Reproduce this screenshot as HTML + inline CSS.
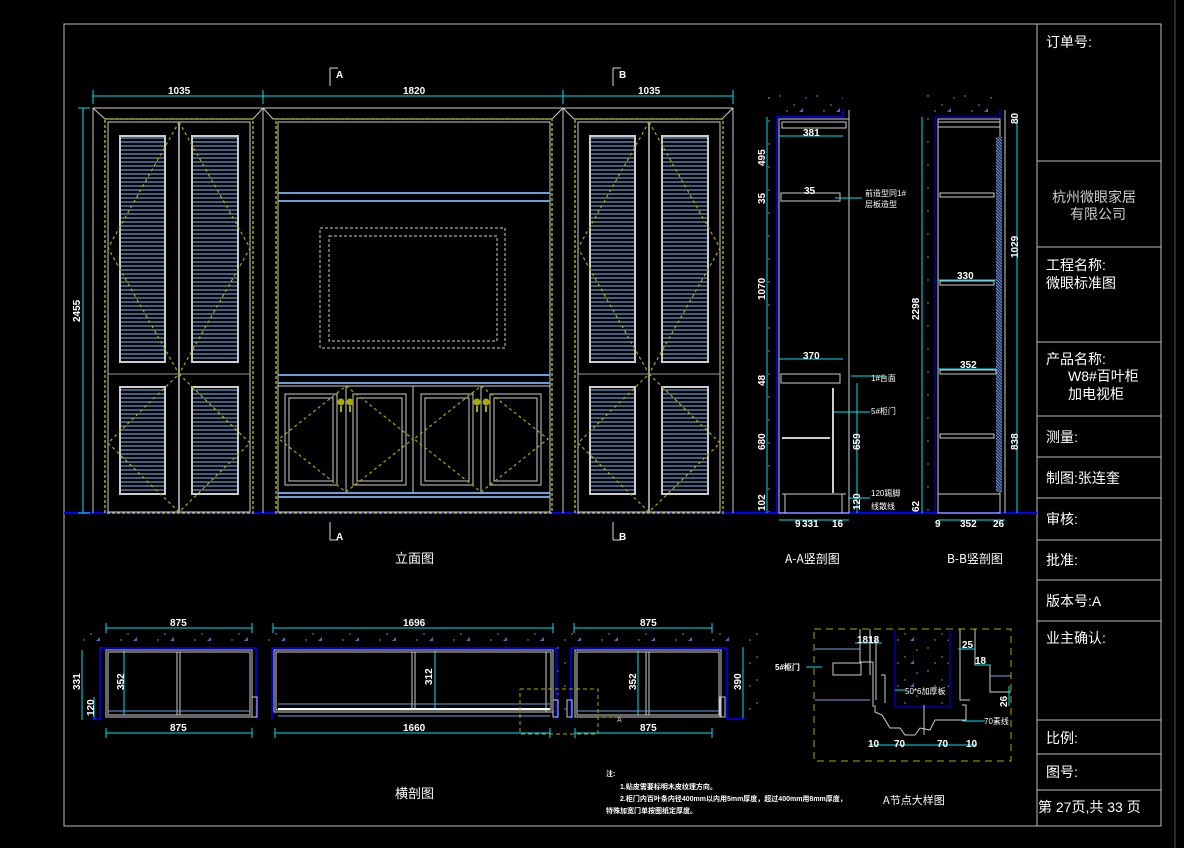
<!DOCTYPE html>
<html><head><meta charset="utf-8"><style>
html,body{margin:0;padding:0;background:#000;}
svg{display:block}
text{font-family:"Liberation Sans","Noto Sans CJK SC",sans-serif;}
.d{fill:#fff;font-family:"Liberation Sans Narrow","Liberation Sans",sans-serif;font-size:10px;font-weight:bold}
.c{fill:#fff;font-family:"Noto Sans CJK SC",sans-serif;}
</style></head><body>
<svg width="1184" height="848" viewBox="0 0 1184 848" xmlns="http://www.w3.org/2000/svg">
<defs>
<pattern id="lv" width="4" height="4" patternUnits="userSpaceOnUse"><rect width="4" height="4" fill="#000"/><line x1="0" y1="2" x2="4" y2="2" stroke="#6a9fd8" stroke-width="1.2"/></pattern>
<pattern id="vl" width="3" height="3" patternUnits="userSpaceOnUse"><rect width="3" height="3" fill="#1a2a55"/><line x1="0" y1="0" x2="3" y2="3" stroke="#6a8fc8" stroke-width="1"/></pattern>
<pattern id="sp" width="37" height="23" patternUnits="userSpaceOnUse"><circle cx="3" cy="4" r="0.7" fill="#8aa8e0"/><circle cx="17" cy="13" r="0.7" fill="#8aa8e0"/><circle cx="29" cy="6" r="0.7" fill="#8aa8e0"/><circle cx="10" cy="19" r="0.7" fill="#8aa8e0"/><path d="M22,20 l4,-4 v4z" fill="#4a6fb8"/></pattern>
</defs>
<rect width="1184" height="848" fill="#000"/>
<rect x="64" y="24" width="1097" height="802" fill="none" stroke="#bbb" stroke-width="1"/>
<line x1="1175" y1="0" x2="1175" y2="848" stroke="#555"/>
<g stroke="#bbb" fill="none">
<line x1="1037" y1="24" x2="1037" y2="826"/>
<line x1="1037" y1="161" x2="1161" y2="161"/>
<line x1="1037" y1="247" x2="1161" y2="247"/>
<line x1="1037" y1="342" x2="1161" y2="342"/>
<line x1="1037" y1="416" x2="1161" y2="416"/>
<line x1="1037" y1="457" x2="1161" y2="457"/>
<line x1="1037" y1="498" x2="1161" y2="498"/>
<line x1="1037" y1="540" x2="1161" y2="540"/>
<line x1="1037" y1="580" x2="1161" y2="580"/>
<line x1="1037" y1="621" x2="1161" y2="621"/>
<line x1="1037" y1="720" x2="1161" y2="720"/>
<line x1="1037" y1="754" x2="1161" y2="754"/>
<line x1="1037" y1="790" x2="1161" y2="790"/>
</g>
<g class="c" font-size="14">
<text x="1046" y="47">订单号:</text>
<text x="1052" y="202" fill="#ccc">杭州微眼家居</text>
<text x="1070" y="219" fill="#ccc">有限公司</text>
<text x="1046" y="270">工程名称:</text>
<text x="1046" y="288">微眼标准图</text>
<text x="1046" y="364">产品名称:</text>
<text x="1068" y="381">W8#百叶柜</text>
<text x="1068" y="399">加电视柜</text>
<text x="1046" y="442">测量:</text>
<text x="1046" y="483">制图:张连奎</text>
<text x="1046" y="524">审核:</text>
<text x="1046" y="565">批准:</text>
<text x="1046" y="606">版本号:A</text>
<text x="1046" y="643">业主确认:</text>
<text x="1046" y="743">比例:</text>
<text x="1046" y="777">图号:</text>
<text x="1038" y="812">第 27页,共 33 页</text>
</g>

<line x1="64" y1="513" x2="1037" y2="513" stroke="#0000ff" stroke-width="2"/>

<g stroke="#00e5ee" stroke-width="1">
<line x1="93" y1="96" x2="733" y2="96"/>
<line x1="93" y1="90" x2="93" y2="104"/><line x1="263" y1="90" x2="263" y2="104"/><line x1="563" y1="90" x2="563" y2="104"/><line x1="733" y1="90" x2="733" y2="104"/>
<line x1="83" y1="108" x2="83" y2="513"/>
<line x1="78" y1="108" x2="90" y2="108"/><line x1="78" y1="513" x2="90" y2="513"/>
</g>
<text class="d" x="168" y="94">1035</text>
<text class="d" x="403" y="94">1820</text>
<text class="d" x="638" y="94">1035</text>
<text class="d" transform="translate(80,322) rotate(-90)">2455</text>
<g stroke="#ddd"><line x1="330" y1="68" x2="330" y2="86"/><line x1="330" y1="68" x2="338" y2="68"/>
<line x1="613" y1="68" x2="613" y2="86"/><line x1="613" y1="68" x2="621" y2="68"/>
<line x1="330" y1="522" x2="330" y2="540"/><line x1="330" y1="540" x2="338" y2="540"/>
<line x1="613" y1="522" x2="613" y2="540"/><line x1="613" y1="540" x2="621" y2="540"/></g>
<text class="d" x="336" y="78">A</text><text class="d" x="619" y="78">B</text>
<text class="d" x="336" y="540">A</text><text class="d" x="619" y="540">B</text>

<g stroke="#ccc" fill="none">
<line x1="93" y1="108" x2="733" y2="108"/>
<polyline points="93,108 105,119 253,119 263,108 273,119 552,119 563,108 574,119 722,119 733,108"/>
<line x1="93" y1="108" x2="93" y2="513"/><line x1="733" y1="108" x2="733" y2="513"/>
<line x1="263" y1="108" x2="263" y2="513"/><line x1="563" y1="108" x2="563" y2="513"/>
</g>

<g id="sideL">
<rect x="105" y="119" width="148" height="394" fill="none" stroke="#aa0" stroke-dasharray="3,2" stroke-width="1.5"/>
<rect x="108" y="122" width="142" height="390" fill="none" stroke="#ccc"/>
<line x1="108" y1="374" x2="250" y2="374" stroke="#999"/>
<line x1="179" y1="122" x2="179" y2="512" stroke="#ccc" stroke-width="1.5"/>
<rect x="120" y="136" width="45" height="226" fill="url(#lv)" stroke="#ccc" stroke-width="2"/>
<rect x="192" y="136" width="46" height="226" fill="url(#lv)" stroke="#ccc" stroke-width="2"/>
<rect x="120" y="387" width="45" height="107" fill="url(#lv)" stroke="#ccc" stroke-width="2"/>
<rect x="192" y="387" width="46" height="107" fill="url(#lv)" stroke="#ccc" stroke-width="2"/>
<g stroke="#aa0" fill="none" stroke-dasharray="3,3" stroke-width="1.2">
<polygon points="179,122 250,248 179,374 108,248"/>
<polygon points="179,374 250,443 179,512 108,443"/>
</g>
</g>
<use href="#sideL" transform="translate(470,0)"/>

<g fill="none">
<rect x="276" y="119" width="276" height="394" stroke="#aa0" stroke-dasharray="3,2" stroke-width="1.5"/>
<rect x="278" y="122" width="272" height="390" stroke="#ccc"/>
<line x1="278" y1="193" x2="550" y2="193" stroke="#6a9fd8" stroke-width="2"/>
<line x1="278" y1="201" x2="550" y2="201" stroke="#6a9fd8" stroke-width="2"/>
<rect x="320" y="228" width="185" height="120" stroke="#ccc" stroke-dasharray="3,2"/>
<rect x="329" y="236" width="168" height="105" stroke="#ccc" stroke-dasharray="3,2"/>
<line x1="278" y1="375" x2="550" y2="375" stroke="#6a9fd8" stroke-width="2"/>
<line x1="278" y1="383" x2="550" y2="383" stroke="#6a9fd8" stroke-width="2"/>
<line x1="278" y1="493" x2="550" y2="493" stroke="#6a9fd8" stroke-width="2"/>
<line x1="278" y1="497" x2="550" y2="497" stroke="#6a9fd8" stroke-width="2"/>
<g stroke="#ccc">
<line x1="278" y1="386" x2="550" y2="386"/>
<line x1="346" y1="386" x2="346" y2="492"/><line x1="413" y1="386" x2="413" y2="492"/><line x1="481" y1="386" x2="481" y2="492"/>
<rect x="285" y="394" width="52" height="91"/><rect x="289" y="398" width="44" height="83"/>
<rect x="353" y="394" width="53" height="91"/><rect x="357" y="398" width="45" height="83"/>
<rect x="421" y="394" width="52" height="91"/><rect x="425" y="398" width="44" height="83"/>
<rect x="490" y="394" width="51" height="91"/><rect x="494" y="398" width="43" height="83"/>
</g>
<g stroke="#aa0" stroke-dasharray="3,3" stroke-width="1.2">
<polygon points="346,386 413,439 346,492 279,439"/>
<polygon points="481,386 548,439 481,492 414,439"/>
</g>
<g fill="#aa0"><circle cx="341" cy="402" r="3.5"/><circle cx="350" cy="402" r="3.5"/><circle cx="477" cy="402" r="3.5"/><circle cx="486" cy="402" r="3.5"/>
<rect x="340" y="406" width="2" height="6"/><rect x="349" y="406" width="2" height="6"/><rect x="476" y="406" width="2" height="6"/><rect x="485" y="406" width="2" height="6"/></g>
</g>
<text class="c" x="395" y="563" font-size="13">立面图</text>

<!-- A-A / B-B sections -->
<rect x="768" y="92" width="8" height="420" fill="url(#sp)"/>
<rect x="768" y="92" width="75" height="24" fill="url(#sp)"/>
<rect x="924" y="92" width="8" height="420" fill="url(#sp)"/>
<rect x="924" y="92" width="76" height="24" fill="url(#sp)"/>
<g fill="none">
<polyline points="777,513 777,117 843,117 843,110" stroke="#00f" stroke-width="1.5"/>
<rect x="779" y="119" width="70" height="394" stroke="#ccc"/>
<rect x="782" y="122" width="64" height="6" stroke="#ccc"/>
<line x1="849" y1="110" x2="849" y2="513" stroke="#ccc"/>
<rect x="781" y="193" width="59" height="8" stroke="#ccc"/>
<rect x="781" y="374" width="59" height="9" stroke="#ccc"/>
<line x1="782" y1="438" x2="830" y2="438" stroke="#ccc" stroke-width="2"/>
<line x1="833" y1="388" x2="833" y2="493" stroke="#ccc" stroke-width="2"/>
<line x1="782" y1="494" x2="846" y2="494" stroke="#ccc"/>
<line x1="785" y1="494" x2="785" y2="513" stroke="#ccc"/><line x1="842" y1="494" x2="842" y2="513" stroke="#ccc"/>
<g stroke="#00e5ee"><line x1="767" y1="117" x2="767" y2="513"/><line x1="779" y1="136" x2="843" y2="136"/><line x1="779" y1="359" x2="843" y2="359"/>
<line x1="851" y1="376" x2="885" y2="376"/><line x1="834" y1="412" x2="870" y2="412"/><line x1="857" y1="383" x2="857" y2="513"/>
<line x1="835" y1="198" x2="862" y2="198"/><line x1="848" y1="498" x2="870" y2="498"/>
<line x1="779" y1="520" x2="849" y2="520"/></g>
<g stroke="#00f"><polyline points="935,513 935,117 1000,117 1000,110"/></g>
<rect x="938" y="119" width="62" height="394" stroke="#ccc"/>
<rect x="938" y="122" width="62" height="5" stroke="#ccc"/>
<rect x="996" y="137" width="6" height="355" fill="url(#vl)" stroke="none"/>
<line x1="1005" y1="110" x2="1005" y2="513" stroke="#ccc"/>
<rect x="940" y="193" width="54" height="4" stroke="#ccc"/>
<rect x="940" y="281" width="54" height="4" stroke="#ccc"/>
<rect x="940" y="370" width="56" height="4" stroke="#ccc"/>
<rect x="940" y="434" width="54" height="4" stroke="#ccc"/>
<line x1="938" y1="494" x2="1000" y2="494" stroke="#ccc"/>
<g stroke="#00e5ee"><line x1="922" y1="117" x2="922" y2="513"/><line x1="1017" y1="117" x2="1017" y2="513"/>
<line x1="938" y1="280" x2="996" y2="280"/><line x1="938" y1="369" x2="996" y2="369"/><line x1="938" y1="520" x2="1005" y2="520"/></g>
</g>
<g class="d" font-size="9">
<text x="803" y="136">381</text><text x="803" y="359">370</text>
<text transform="translate(765,166) rotate(-90)">495</text><text transform="translate(765,204) rotate(-90)">35</text>
<text transform="translate(765,300) rotate(-90)">1070</text><text transform="translate(765,386) rotate(-90)">48</text>
<text transform="translate(765,450) rotate(-90)">680</text><text transform="translate(765,511) rotate(-90)">102</text>
<text transform="translate(860,450) rotate(-90)">659</text><text transform="translate(860,510) rotate(-90)">120</text>
<text x="795" y="527">9</text><text x="802" y="527">331</text><text x="832" y="527">16</text>
<text x="804" y="194">35</text>
<text x="957" y="279">330</text><text x="960" y="368">352</text>
<text transform="translate(919,320) rotate(-90)">2298</text><text transform="translate(919,512) rotate(-90)">62</text>
<text transform="translate(1018,258) rotate(-90)">1029</text><text transform="translate(1018,450) rotate(-90)">838</text>
<text transform="translate(1018,124) rotate(-90)">80</text>
<text x="935" y="527">9</text><text x="960" y="527">352</text><text x="993" y="527">26</text>
</g>
<g class="c" font-size="8"><text x="865" y="196">前造型同1#</text><text x="865" y="207">层板造型</text>
<text x="871" y="381">1#台面</text><text x="871" y="414">5#柜门</text><text x="871" y="496">120踢脚</text><text x="871" y="509">线散线</text></g>
<text class="c" x="785" y="563" font-size="12">A-A竖剖图</text>
<text class="c" x="947" y="563" font-size="12">B-B竖剖图</text>

<!-- plan section -->
<rect x="72" y="630" width="690" height="16" fill="url(#sp)"/>
<rect x="556" y="646" width="14" height="66" fill="url(#sp)"/>
<rect x="740" y="640" width="20" height="75" fill="url(#sp)"/>
<g fill="none">
<g stroke="#00e5ee">
<line x1="106" y1="628" x2="252" y2="628"/><line x1="273" y1="628" x2="553" y2="628"/><line x1="574" y1="628" x2="712" y2="628"/>
<line x1="106" y1="733" x2="252" y2="733"/><line x1="275" y1="733" x2="550" y2="733"/><line x1="575" y1="733" x2="712" y2="733"/>
<line x1="106" y1="623" x2="106" y2="633"/><line x1="252" y1="623" x2="252" y2="633"/><line x1="273" y1="623" x2="273" y2="633"/><line x1="553" y1="623" x2="553" y2="633"/><line x1="574" y1="623" x2="574" y2="633"/><line x1="712" y1="623" x2="712" y2="633"/>
<line x1="106" y1="728" x2="106" y2="738"/><line x1="252" y1="728" x2="252" y2="738"/><line x1="275" y1="728" x2="275" y2="738"/><line x1="550" y1="728" x2="550" y2="738"/><line x1="575" y1="728" x2="575" y2="738"/><line x1="712" y1="728" x2="712" y2="738"/>
<line x1="82" y1="650" x2="82" y2="720"/><line x1="94" y1="697" x2="94" y2="720"/><line x1="124" y1="651" x2="124" y2="715"/>
<line x1="435" y1="651" x2="435" y2="708"/><line x1="638" y1="651" x2="638" y2="715"/><line x1="743" y1="648" x2="743" y2="718"/>
</g>
<g stroke="#00f" stroke-width="1.5">
<polyline points="92,719 100,719 100,648 256,648 256,719"/>
<polyline points="272,719 272,648 556,648 556,719"/>
<polyline points="571,719 571,648 727,648 727,719 745,719"/>
</g>
<g stroke="#ccc">
<rect x="106" y="650" width="146" height="67"/><rect x="108" y="652" width="142" height="63"/>
<line x1="177" y1="652" x2="177" y2="715"/><line x1="180" y1="652" x2="180" y2="715"/>
<rect x="274" y="650" width="279" height="62"/><rect x="276" y="652" width="275" height="58"/>
<line x1="412" y1="652" x2="412" y2="708"/><line x1="415" y1="652" x2="415" y2="708"/>
<line x1="546" y1="652" x2="546" y2="712"/>
<rect x="575" y="650" width="146" height="67"/><rect x="577" y="652" width="142" height="63"/>
<line x1="646" y1="652" x2="646" y2="715"/><line x1="649" y1="652" x2="649" y2="715"/>
<rect x="252" y="697" width="5" height="20"/><rect x="720" y="697" width="5" height="20"/><rect x="553" y="700" width="5" height="17"/><rect x="567" y="700" width="5" height="17"/>
</g>
<line x1="278" y1="709" x2="550" y2="709" stroke="#fff" stroke-width="2"/>
<line x1="278" y1="716" x2="550" y2="716" stroke="#6a9fd8"/>
<line x1="278" y1="704" x2="550" y2="704" stroke="#6a9fd8"/>
<line x1="108" y1="711" x2="250" y2="711" stroke="#6a9fd8"/>
<line x1="577" y1="711" x2="719" y2="711" stroke="#6a9fd8"/>
<rect x="520" y="689" width="78" height="45" stroke="#aa0" stroke-dasharray="4,3"/>
<line x1="598" y1="717" x2="615" y2="717" stroke="#aa0" stroke-dasharray="4,3"/>
</g>
<text x="617" y="722" fill="#ccc" font-size="7">A</text>
<g class="d" font-size="10">
<text x="170" y="626">875</text><text x="403" y="626">1696</text><text x="640" y="626">875</text>
<text x="170" y="731">875</text><text x="403" y="731">1660</text><text x="640" y="731">875</text>
<text transform="translate(80,690) rotate(-90)">331</text><text transform="translate(94,716) rotate(-90)">120</text>
<text transform="translate(124,690) rotate(-90)">352</text><text transform="translate(432,685) rotate(-90)">312</text>
<text transform="translate(636,690) rotate(-90)">352</text><text transform="translate(741,690) rotate(-90)">390</text>
</g>
<text class="c" x="395" y="798" font-size="13">横剖图</text>

<!-- detail -->
<rect x="897" y="632" width="52" height="72" fill="url(#sp)"/>
<g fill="none">
<rect x="814" y="629" width="197" height="132" stroke="#aa0" stroke-dasharray="7,5"/>
<polyline points="895,629 895,707 950,707 950,629" stroke="#00f"/>
<g stroke="#ccc">
<polyline points="860,629 860,662 873,662 873,707"/><polyline points="870,629 870,675"/>
<polyline points="876,640 876,700"/><polyline points="881,675 885,675 885,703"/>
<rect x="833" y="663" width="28" height="12"/>
<polyline points="960,629 960,700 970,700"/><polyline points="975,629 975,665 990,665 990,692 1011,692"/>
<polyline points="962,705 966,705 966,720 935,720 930,730 920,728 915,735 905,735 900,728 890,728 882,715 875,712 875,705"/>
<line x1="924" y1="705" x2="924" y2="735"/>
</g>
<g stroke="#7aa0d8"><line x1="815" y1="649" x2="860" y2="649"/><line x1="815" y1="700" x2="870" y2="700"/><line x1="990" y1="676" x2="1011" y2="676"/></g>
<g stroke="#00e5ee"><line x1="855" y1="643" x2="882" y2="643"/><line x1="958" y1="649" x2="975" y2="649"/><line x1="975" y1="665" x2="990" y2="665"/>
<line x1="1009" y1="686" x2="1009" y2="706"/><line x1="869" y1="745" x2="977" y2="745"/>
<line x1="895" y1="690" x2="905" y2="690"/><line x1="962" y1="721" x2="985" y2="721"/><line x1="806" y1="667" x2="822" y2="667"/></g>
</g>
<g class="d" font-size="11"><text x="857" y="643">1818</text><text x="962" y="648">25</text><text x="975" y="664">18</text>
<text x="868" y="747">10</text><text x="894" y="747">70</text><text x="937" y="747">70</text><text x="966" y="747">10</text>
<text transform="translate(1007,707) rotate(-90)">26</text></g>
<g class="c" font-size="8"><text x="775" y="670" font-weight="bold">5#柜门</text><text x="905" y="694">50*6加厚板</text><text x="984" y="724">70素线</text></g>
<text class="c" x="883" y="804" font-size="11">A节点大样图</text>

<g class="c" font-size="7" font-weight="bold">
<text x="606" y="776">注:</text>
<text x="620" y="789">1.贴皮需要标明木皮纹理方向。</text>
<text x="620" y="801">2.柜门内百叶条内径400mm以内用5mm厚度，超过400mm用8mm厚度，</text>
<text x="606" y="813">特殊加宽门单按图纸定厚度。</text>
</g>
</svg>
</body></html>
